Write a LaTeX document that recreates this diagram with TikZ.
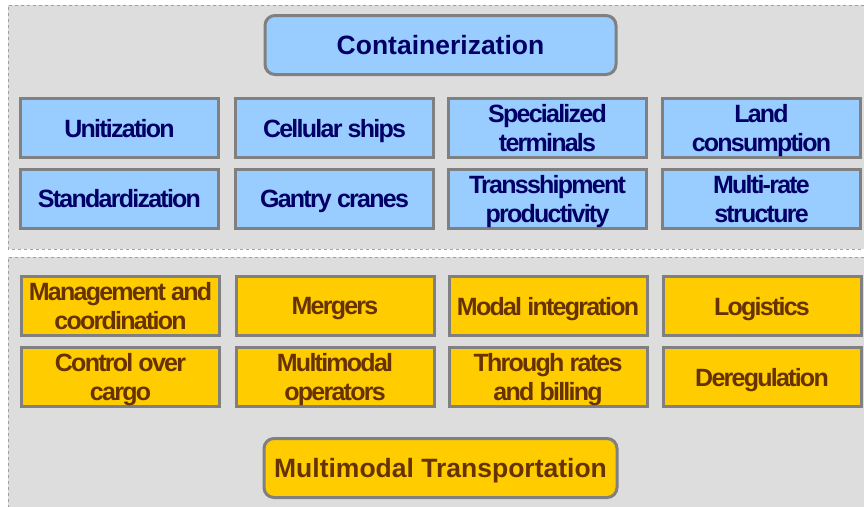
\documentclass[tikz,border=0pt]{standalone}
\usepackage{fontspec}
\setmainfont{Liberation Sans}
\newfontfamily\tightfont[LetterSpace=-7]{Liberation Sans}
\definecolor{panelgray}{HTML}{DDDDDD}
\definecolor{dashgray}{HTML}{A0A0A0}
\definecolor{edgegray}{HTML}{808080}
\definecolor{skyblue}{HTML}{99CCFF}
\definecolor{navytext}{HTML}{000066}
\definecolor{gold}{HTML}{FFCC00}
\definecolor{browntext}{HTML}{663300}

\begin{document}
\begin{tikzpicture}[x=1pt, y=-1pt,
    panel/.style={fill=panelgray},
    panelrim/.style={draw=dashgray, dashed, line width=0.8pt},
    cell/.style={draw=edgegray, line width=3pt, minimum width=198pt, minimum height=59pt, inner sep=0pt, outer sep=0pt, align=center, text depth=-3pt, font=\tightfont\bfseries\fontsize{25}{29}\selectfont},
    bluecell/.style={cell, fill=skyblue, text=navytext},
    goldcell/.style={cell, fill=gold, text=browntext},
    headline/.style={draw=edgegray, line width=3pt, rounded corners=10pt, minimum height=59pt, inner sep=0pt, outer sep=0pt, text depth=-2pt, font=\bfseries\fontsize{26.5}{30}\selectfont}]
\useasboundingbox (0,0) rectangle (864,506);
\fill[white] (0,0) rectangle (864,506);
% the two grey panels
\fill[panel] (8,5) rectangle (870,249);
\draw[panelrim] (870,5) -- (8,5) -- (8,249) -- (870,249);
\fill[panel] (8,257) rectangle (870,512);
\draw[panelrim] (870,257) -- (8,257) -- (8,512);
\node[headline, fill=skyblue, text=navytext, minimum width=351pt] (container) at (440.5,45) {Containerization};
\node[bluecell] (unit) at (119.5,128) {Unitization};
\node[bluecell] (cellular) at (334.5,128) {Cellular ships};
\node[bluecell] (terminals) at (547.5,128) {Specialized\\terminals};
\node[bluecell] (land) at (761.5,128) {Land\\consumption};
\node[bluecell] (standard) at (119.5,198.5) {Standardization};
\node[bluecell] (gantry) at (334.5,198.5) {Gantry cranes};
\node[bluecell] (tranship) at (547.5,198.5) {Transshipment\\productivity};
\node[bluecell] (multirate) at (761.5,198.5) {Multi-rate\\structure};
\node[goldcell] (manage) at (120.5,306) {Management and\\coordination};
\node[goldcell] (mergers) at (335,306) {Mergers};
\node[goldcell] (modal) at (548,306) {Modal integration};
\node[goldcell] (logistics) at (762,306) {Logistics};
\node[goldcell] (control) at (120.5,377) {Control over\\cargo};
\node[goldcell] (operators) at (335,377) {Multimodal\\operators};
\node[goldcell] (through) at (548,377) {Through rates\\and billing};
\node[goldcell] (dereg) at (762,377) {Deregulation};
\node[headline, fill=gold, text=browntext, minimum width=353pt] (multimodal) at (440.5,468) {Multimodal Transportation};
\end{tikzpicture}
\end{document}
